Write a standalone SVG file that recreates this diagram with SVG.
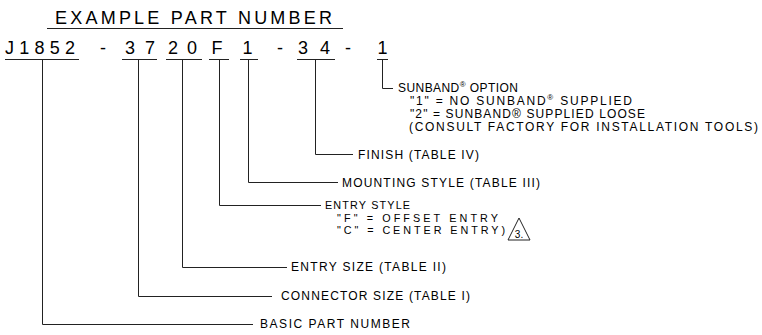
<svg xmlns="http://www.w3.org/2000/svg" width="762" height="335" viewBox="0 0 762 335">
<style>
.t{font-family:"Liberation Sans",Arial,sans-serif;fill:#000}
.big{font-size:18px}
.lab{font-size:12px}
.sm{font-size:10.8px}
.ln{stroke:#222;stroke-width:1;fill:none}
.sup{font-size:8px}
</style>
<rect width="762" height="335" fill="#fff"/>
<g id="title">
<text class="t big" x="55" y="24" textLength="277" lengthAdjust="spacing">EXAMPLE PART NUMBER</text>
<line class="ln" x1="47" y1="28.5" x2="343" y2="28.5"/>
</g>
<g id="partnumber">
<text class="t big" x="40" y="54" text-anchor="middle" textLength="70" lengthAdjust="spacing">J1852</text>
<text class="t big" x="103" y="54" text-anchor="middle">-</text>
<text class="t big" x="140" y="54" text-anchor="middle" textLength="30" lengthAdjust="spacing">37</text>
<text class="t big" x="182.5" y="54" text-anchor="middle" textLength="29" lengthAdjust="spacing">20</text>
<text class="t big" x="217" y="54" text-anchor="middle">F</text>
<text class="t big" x="247.5" y="54" text-anchor="middle">1</text>
<text class="t big" x="280" y="54" text-anchor="middle">-</text>
<text class="t big" x="314" y="54" text-anchor="middle" textLength="32" lengthAdjust="spacing">34</text>
<text class="t big" x="348" y="54" text-anchor="middle">-</text>
<text class="t big" x="382.5" y="54" text-anchor="middle">1</text>
<path class="ln" d="M5 59.5H79M122 59.5H157M166 59.5H202M209 59.5H229M240 59.5H258M297 59.5H335M377 59.5H388"/>
</g>
<g id="connectors">
<path class="ln" d="M42.5 59.5V324.5H253"/>
<path class="ln" d="M138.5 59.5V296.5H272"/>
<path class="ln" d="M182.5 59.5V267.5H287"/>
<path class="ln" d="M219.5 59.5V205.5H321"/>
<path class="ln" d="M248.5 59.5V182.5H338"/>
<path class="ln" d="M315.5 59.5V154.5H353"/>
<path class="ln" d="M382.5 59.5V88.5H393"/>
</g>
<g id="sunband">
<text class="t lab" x="398" y="92" textLength="120" lengthAdjust="spacing">SUNBAND<tspan class="sup" dy="-5">®</tspan><tspan dy="5"> OPTION</tspan></text>
<text class="t lab" x="410" y="105" textLength="222" lengthAdjust="spacing">"1" = NO SUNBAND<tspan class="sup" dy="-5">®</tspan><tspan dy="5"> SUPPLIED</tspan></text>
<text class="t lab" x="410" y="118" textLength="235" lengthAdjust="spacing">"2" = SUNBAND® SUPPLIED LOOSE</text>
<text class="t lab" x="409" y="131" textLength="349" lengthAdjust="spacing">(CONSULT FACTORY FOR INSTALLATION TOOLS)</text>
</g>
<g id="finish">
<text class="t lab" x="358" y="159" textLength="121" lengthAdjust="spacing">FINISH (TABLE IV)</text>
</g>
<g id="mounting">
<text class="t lab" x="342" y="187" textLength="198" lengthAdjust="spacing">MOUNTING STYLE (TABLE III)</text>
</g>
<g id="entrystyle">
<text class="t sm" x="325" y="209" textLength="85" lengthAdjust="spacing">ENTRY STYLE</text>
<text class="t sm" x="337" y="221.5" textLength="161" lengthAdjust="spacing">"F" = OFFSET ENTRY</text>
<text class="t sm" x="337" y="234" textLength="168" lengthAdjust="spacing">"C" = CENTER ENTRY)</text>
<path class="ln" d="M508 240L519 218L530 240Z"/>
<text class="t" x="519" y="238" text-anchor="middle" font-size="10">3.</text>
</g>
<g id="entrysize">
<text class="t lab" x="291" y="271" textLength="155" lengthAdjust="spacing">ENTRY SIZE (TABLE II)</text>
</g>
<g id="connectorsize">
<text class="t lab" x="281" y="300" textLength="189" lengthAdjust="spacing">CONNECTOR SIZE (TABLE I)</text>
</g>
<g id="basic">
<text class="t lab" x="260" y="328" textLength="150" lengthAdjust="spacing">BASIC PART NUMBER</text>
</g>
</svg>
